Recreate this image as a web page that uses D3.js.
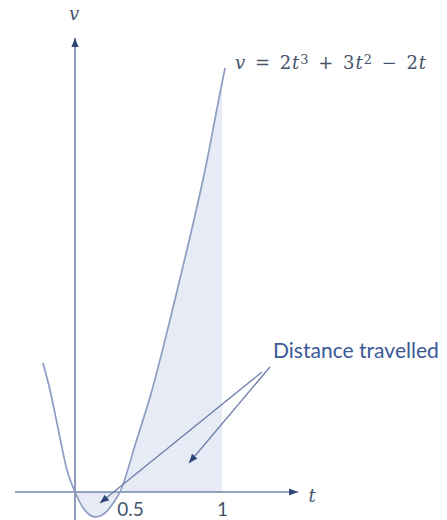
<!DOCTYPE html>
<html>
<head>
<meta charset="utf-8">
<script src="https://cdn.jsdelivr.net/npm/d3@7"></script>
<style>
  body { margin: 0; background: #fff; }
  svg { display: block; }
</style>
</head>
<body>
<svg id="chart" width="447" height="520"></svg>
<script>
// Sampled velocity curve v(t), as sketched
const tValues = [-0.356, -0.278, -0.189, -0.089, 0, 0.1, 0.222, 0.344, 0.433, 0.5, 0.574, 0.657, 0.745, 0.828, 0.917, 1.0, 1.015];
const vValues = [0.946, 0.748, 0.469, 0.161, 0, -0.125, -0.183, -0.147, -0.073, 0, 0.345, 0.748, 1.262, 1.775, 2.362, 3.0, 3.11];

// Axis ticks
const tickValues = [0.5, 1];
const tickLabels = ["0.5", "1"];

// Interval whose area is shaded
const shadedInterval = [0, 1];

// Axis extents (data units)
const tAxisExtent = [-0.667, 1.373];
const vAxisExtent = [-0.21, 3.33];

// Callout and its two leader arrows (data units)
const calloutText = "Distance travelled";
const calloutAnchor = [1.25, 0.983];
const leaderFrom = [[1.196, 0.88], [1.235, 0.917]];
const leaderTo = [[0.278, -0.081], [0.838, 0.213]];

const svg = d3.select("#chart");

// Sketch-style axis: uneven spacing between 0, 0.5 and 1
const x = d3.scaleLinear().domain([0, 0.5, 1]).range([75, 120, 222]);
const y = d3.scaleLinear().domain([0, 3]).range([492, 83]);

const points = tValues.map((t, i) => ({ t, v: vValues[i] }));

const colors = {
  curve: "#8d9cc2",
  axis: "#7384ad",
  head: "#2e4677",
  fill: "#e6ebf5",
  text: "#44546a",
  callout: "#3a5897"
};

// Scale a text's font size so that it spans the given width
function fitWidth(sel, width) {
  const fs = parseFloat(sel.attr("font-size"));
  const w = sel.node().getComputedTextLength();
  if (w > 0) sel.attr("font-size", (fs * width / w).toFixed(2));
}

// Arrowhead markers
const defs = svg.append("defs");
function marker(id, size) {
  defs.append("marker")
    .attr("id", id)
    .attr("viewBox", "0 0 10 10")
    .attr("refX", 10).attr("refY", 5)
    .attr("markerUnits", "userSpaceOnUse")
    .attr("markerWidth", size).attr("markerHeight", size)
    .attr("orient", "auto")
    .append("path")
    .attr("d", "M0,1 L10,5 L0,9 Z")
    .attr("fill", colors.head);
}
marker("axisHead", 9);
marker("leaderHead", 9);

// Shaded area between the curve and the t-axis
const shaded = points.filter(d => d.t >= shadedInterval[0] && d.t <= shadedInterval[1]);
svg.append("path")
  .datum(shaded)
  .attr("fill", colors.fill)
  .attr("d", d3.area()
    .x(d => x(d.t))
    .y0(y(0))
    .y1(d => y(d.v))
    .curve(d3.curveMonotoneX));

// Axes
svg.append("line")
  .attr("x1", x(tAxisExtent[0])).attr("x2", x(tAxisExtent[1]))
  .attr("y1", y(0)).attr("y2", y(0))
  .attr("stroke", colors.axis).attr("stroke-width", 1.6)
  .attr("marker-end", "url(#axisHead)");
svg.append("line")
  .attr("x1", x(0)).attr("x2", x(0))
  .attr("y1", y(vAxisExtent[0])).attr("y2", y(vAxisExtent[1]))
  .attr("stroke", colors.axis).attr("stroke-width", 1.6)
  .attr("marker-end", "url(#axisHead)");

// Curve
svg.append("path")
  .datum(points)
  .attr("fill", "none")
  .attr("stroke", colors.curve)
  .attr("stroke-width", 1.7)
  .attr("d", d3.line()
    .x(d => x(d.t))
    .y(d => y(d.v))
    .curve(d3.curveMonotoneX));

// Tick labels along t
const tAxis = svg.append("g")
  .attr("transform", `translate(0,${y(0)})`)
  .call(d3.axisBottom(x)
    .tickValues(tickValues)
    .tickFormat((d, i) => tickLabels[i])
    .tickSize(0)
    .tickPadding(11));
tAxis.select(".domain").remove();
tAxis.selectAll("text")
  .attr("font-family", "Lato, 'Open Sans', sans-serif")
  .attr("font-size", 19)
  .attr("fill", colors.text)
  .attr("dx", d => d === 0.5 ? 10 : 0);

// Axis names
const mathFont = "'DejaVu Serif', 'Liberation Serif', serif";
svg.append("text")
  .attr("x", x(0) - 1).attr("y", 20)
  .attr("text-anchor", "middle")
  .attr("font-family", mathFont).attr("font-style", "italic")
  .attr("font-size", 18).attr("fill", colors.text)
  .text("v");
svg.append("text")
  .attr("x", x(tAxisExtent[1]) + 14).attr("y", y(0) + 10)
  .attr("text-anchor", "middle")
  .attr("font-family", mathFont).attr("font-style", "italic")
  .attr("font-size", 18).attr("fill", colors.text)
  .text("t");

// Equation of the curve, next to its upper end
const last = points[points.length - 1];
const eq = svg.append("text")
  .attr("x", x(last.t) + 10).attr("y", y(last.v) + 1)
  .attr("font-family", mathFont)
  .attr("font-size", 18)
  .attr("letter-spacing", 1)
  .attr("fill", colors.text);
[["v", "i"], [" = 2", "n"], ["t", "i"], ["3", "s"], [" + 3", "n"],
 ["t", "i"], ["2", "s"], [" − 2", "n"], ["t", "i"]].forEach(([s, kind]) => {
  const ts = eq.append("tspan").text(s)
    .attr("font-style", kind === "i" ? "italic" : "normal");
  if (kind === "s") ts.attr("font-size", "72%").attr("baseline-shift", "40%");
});
{
  const w = eq.node().getComputedTextLength();
  eq.attr("word-spacing", Math.max(0, (192 - w) / 6).toFixed(2));
}

// Callout with leader arrows
svg.selectAll(".leader")
  .data(leaderFrom.map((f, i) => [f, leaderTo[i]]))
  .join("line")
  .attr("class", "leader")
  .attr("x1", d => x(d[0][0])).attr("y1", d => y(d[0][1]))
  .attr("x2", d => x(d[1][0])).attr("y2", d => y(d[1][1]))
  .attr("stroke", "#6d7fa9").attr("stroke-width", 1.3)
  .attr("marker-end", "url(#leaderHead)");

const callout = svg.append("text")
  .attr("x", x(calloutAnchor[0])).attr("y", y(calloutAnchor[1]))
  .attr("font-family", "Lato, 'Open Sans', sans-serif")
  .attr("font-size", 19)
  .attr("fill", colors.callout)
  .text(calloutText);
fitWidth(callout, 166);
</script>
</body>
</html>
